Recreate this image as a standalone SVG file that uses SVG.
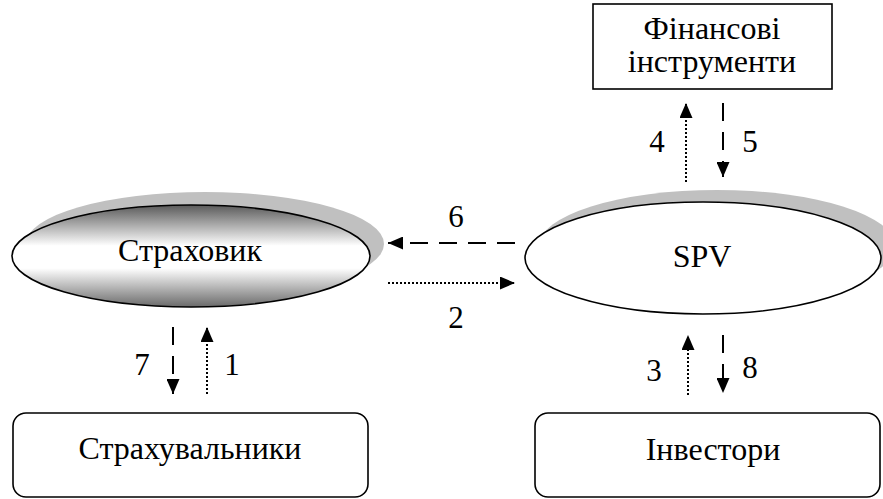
<svg xmlns="http://www.w3.org/2000/svg" width="883" height="499" viewBox="0 0 883 499">
<style>
text{font-family:"Liberation Serif","Times New Roman",serif;font-size:32px;fill:#000;text-anchor:middle}
.num{font-size:31px}
.shape{stroke:#000;stroke-width:1.6}
.shadow{fill:#c0c0c0;stroke:none}
.dash{stroke:#000;stroke-width:2;fill:none;stroke-dasharray:18 11}
.dot{stroke:#000;stroke-width:2;fill:none;stroke-dasharray:2 2}
</style>
<defs>
<linearGradient id="g" x1="0" y1="0" x2="0" y2="1">
<stop offset="0" stop-color="#5a5a5a"/>
<stop offset="0.4" stop-color="#ffffff"/>
<stop offset="0.62" stop-color="#ffffff"/>
<stop offset="1" stop-color="#6a6a6a"/>
</linearGradient>
<marker id="ah" viewBox="0 0 15 13" refX="15" refY="6.5" markerWidth="15" markerHeight="13" markerUnits="userSpaceOnUse" orient="auto">
<path d="M0,0 L15,6.5 L0,13 z" fill="#000"/>
</marker>
</defs>
<g id="insurer">
<ellipse class="shadow" cx="205" cy="244" rx="179" ry="52"/>
<ellipse class="shape" cx="191" cy="256" rx="179" ry="51" fill="url(#g)"/>
<text x="190" y="261">Страховик</text>
</g>
<g id="spv">
<ellipse class="shadow" cx="717" cy="246" rx="178" ry="56"/>
<ellipse class="shape" cx="703" cy="258" rx="178" ry="56" fill="#fff"/>
<text x="702" y="267">SPV</text>
</g>
<g id="instruments">
<rect class="shape" x="593" y="4" width="239" height="85" fill="#fff"/>
<text x="712" y="39">Фінансові</text>
<text x="712" y="72">інструменти</text>
</g>
<g id="policyholders">
<rect class="shape" x="13" y="413" width="355" height="84" rx="13" fill="#fff"/>
<text x="190" y="459">Страхувальники</text>
</g>
<g id="investors">
<rect class="shape" x="535" y="413" width="345" height="84" rx="13" fill="#fff"/>
<text x="713" y="460">Інвестори</text>
</g>
<g id="connectors">
<line class="dot" x1="388" y1="283" x2="515" y2="283" marker-end="url(#ah)"/>
<line class="dash" x1="515" y1="243" x2="388" y2="243" marker-end="url(#ah)"/>
<line class="dash" x1="173" y1="327" x2="173" y2="394" marker-end="url(#ah)"/>
<line class="dot" x1="207" y1="394" x2="207" y2="327" marker-end="url(#ah)"/>
<line class="dot" x1="688" y1="395" x2="688" y2="335" marker-end="url(#ah)"/>
<line class="dash" x1="723" y1="335" x2="723" y2="393" marker-end="url(#ah)"/>
<line class="dot" x1="686" y1="182" x2="686" y2="103" marker-end="url(#ah)"/>
<line class="dash" x1="723" y1="103" x2="723" y2="177" marker-end="url(#ah)"/>
<g id="labels">
<text class="num" x="456" y="227">6</text>
<text class="num" x="456" y="328">2</text>
<text class="num" x="142" y="375">7</text>
<text class="num" x="232" y="375">1</text>
<text class="num" x="654" y="381">3</text>
<text class="num" x="750" y="378">8</text>
<text class="num" x="657" y="152">4</text>
<text class="num" x="750" y="152">5</text>
</g>
</g>
</svg>
